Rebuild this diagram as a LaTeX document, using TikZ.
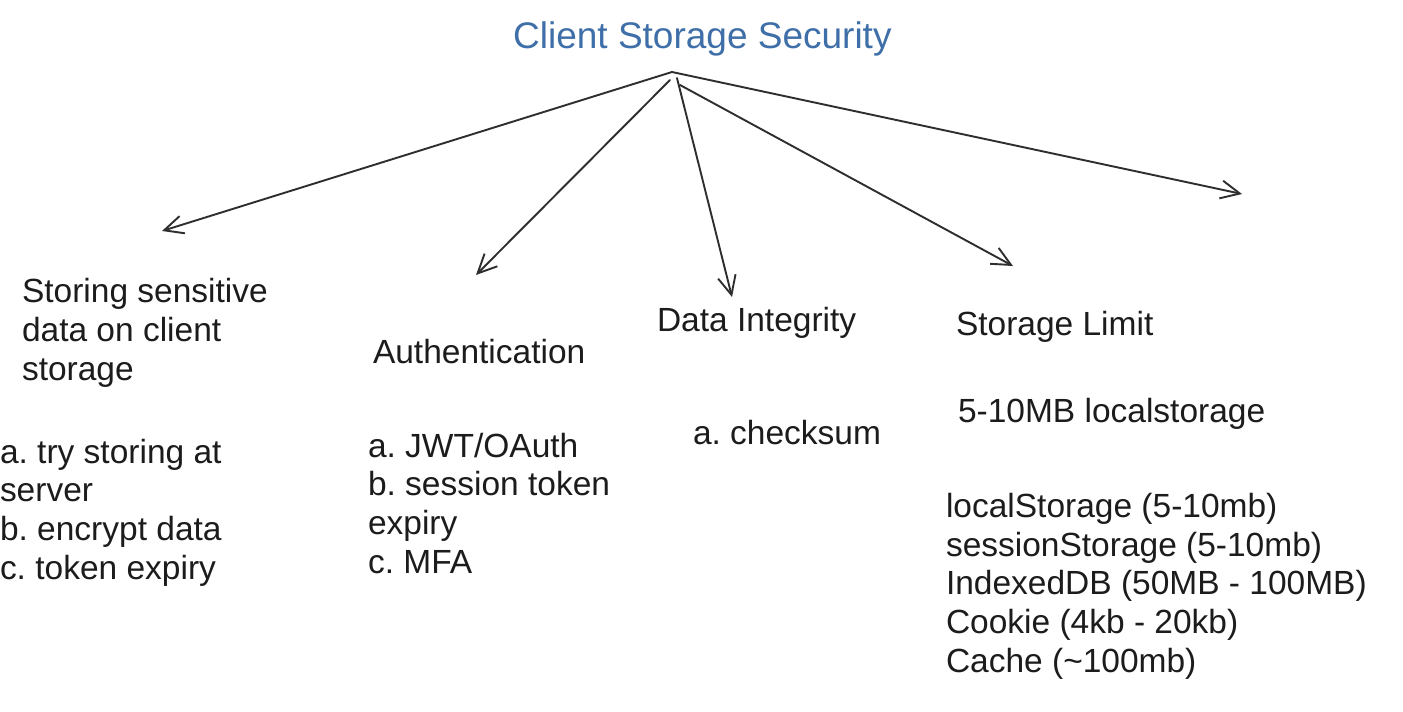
\documentclass[tikz,border=0pt]{standalone}
\usepackage{fontspec}
\setmainfont{Liberation Sans}
\usetikzlibrary{arrows.meta}
\definecolor{titleblue}{HTML}{3F6FA8}
\definecolor{ink}{HTML}{1C1C1C}
\definecolor{lineink}{HTML}{2E2E2E}
\tikzset{
  txt/.style={anchor=base west, inner sep=0pt, outer sep=0pt, align=left, text=ink,
    font=\frenchspacing\fontsize{33.5}{38.6}\selectfont},
  ttl/.style={anchor=base west, inner sep=0pt, text=titleblue,
    font=\fontsize{37}{44}\selectfont},
  branch/.style={draw=lineink, line width=1.9pt, line cap=round,
    -{Straight Barb[length=19pt,width=18pt,line width=1.9pt]}}
}
\begin{document}
\begin{tikzpicture}[x=1pt,y=-1pt]
\useasboundingbox[fill=white] (0,0) rectangle (1403,712);
\node[ttl] (title) at (513,48) {Client Storage Security};
% branch origins
\coordinate (apex) at (672,72);
\coordinate (o2) at (670,80);
\coordinate (o3) at (677,78);
\coordinate (o4) at (680,85);
% arrow ends
\coordinate (e1) at (162,231);
\coordinate (e2) at (476,275);
\coordinate (e3) at (732,297);
\coordinate (e4) at (1013,266);
\coordinate (e5) at (1242,194);
\draw[branch] (apex) -- (e1);
\draw[branch] (o2) -- (e2);
\draw[branch] (o3) -- (e3);
\draw[branch] (o4) -- (e4);
\draw[branch] (apex) -- (e5);
% headings (multi-line nodes are placed by the baseline of their last line)
\node[txt] (h1) at (22,380) {Storing sensitive\\data on client\\storage};
\node[txt] (h2) at (373,363) {Authentication};
\node[txt] (h3) at (657,331) {Data Integrity};
\node[txt] (h4) at (956,335) {Storage Limit};
% details
\node[txt] (l1) at (0,579) {a. try storing at\\server\\b. encrypt data\\c. token expiry};
\node[txt] (l2) at (368,573) {a. JWT/OAuth\\b. session token\\expiry\\c. MFA};
\node[txt] (l3) at (693,444) {a. checksum};
\node[txt] (l4a) at (958,422) {5-10MB localstorage};
\node[txt] (l4b) at (946,672) {localStorage (5-10mb)\\sessionStorage (5-10mb)\\IndexedDB (50MB - 100MB)\\Cookie (4kb - 20kb)\\Cache ({\char"7E}100mb)};
\end{tikzpicture}
\end{document}
